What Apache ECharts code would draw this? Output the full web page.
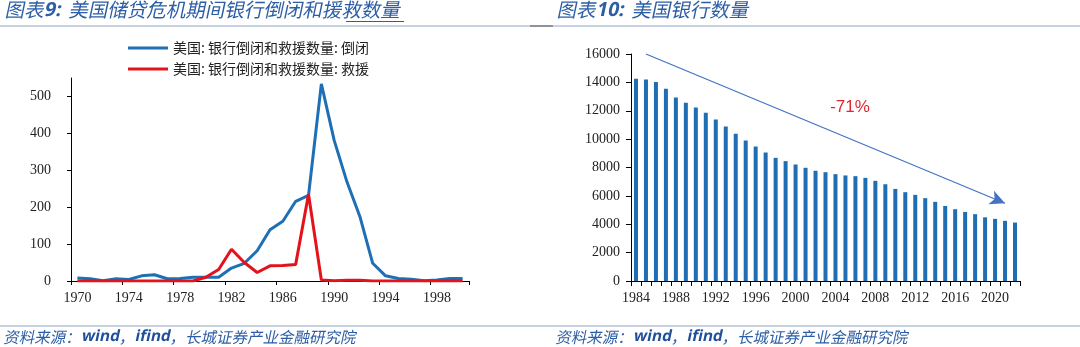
<!DOCTYPE html>
<html>
<head>
<meta charset="utf-8">
<script src="https://cdn.jsdelivr.net/npm/echarts@6/dist/echarts.min.js"></script>
<style>html,body{margin:0;padding:0;background:#fff;}#c{width:1080px;height:347px;}</style>
</head>
<body>
<div id="c"></div>
<script>
// ---- Left chart data ----
const leftYears = ['1970','1971','1972','1973','1974','1975','1976','1977','1978','1979','1980','1981','1982','1983','1984','1985','1986','1987','1988','1989','1990','1991','1992','1993','1994','1995','1996','1997','1998','1999','2000'];
const closures = [8,6,1,6,4,14,17,6,7,10,10,10,35,48,82,139,162,216,232,534,381,268,175,48,14,7,5,1,3,7,7];
const assisted = [0,0,0,0,0,0,0,0,0,0,10,31,86,50,23,41,42,45,235,3,1,2,2,0,0,0,0,0,0,0,0];
const leftNames = ['美国: 银行倒闭和救援数量: 倒闭','美国: 银行倒闭和救援数量: 救援'];
// ---- Right chart data ----
const rightYears = ['1984','1985','1986','1987','1988','1989','1990','1991','1992','1993','1994','1995','1996','1997','1998','1999','2000','2001','2002','2003','2004','2005','2006','2007','2008','2009','2010','2011','2012','2013','2014','2015','2016','2017','2018','2019','2020','2021','2022'];
const bankCount = [14260,14210,14020,13550,12940,12570,12230,11860,11390,10890,10380,9910,9480,9060,8680,8450,8210,7980,7770,7670,7530,7440,7390,7270,7060,6820,6490,6260,6070,5840,5580,5290,5060,4870,4710,4490,4380,4240,4120];
const arrowFrom = ['1985', 16000];
const arrowTo = ['2021', 5480];
const changeLabel = '-71%';
const titleLeft = ['图表','9:','美国储贷危机期间银行倒闭和援','救数量'];
const titleRight = ['图表','10:','美国银行数量'];
const sourceParts = ['资料来源：','wind','，','ifind','，长城证券产业金融研究院'];

const serif = '"Liberation Serif","Times New Roman",serif';
const cjk = '"Noto Sans CJK SC","Noto Sans",sans-serif';
const titleColor = '#2c5ea6';
const axisCommon = {
  axisLine: {lineStyle: {color: '#000', width: 1}},
  axisLabel: {color: '#222', fontFamily: serif, fontSize: 14},
  splitLine: {show: false}
};
const tStyle = {fontFamily: cjk, fontSize: 19.5, fill: titleColor, fontWeight: 'normal'};
const tBold = {fontFamily: '"Open Sans","Noto Sans",sans-serif', fontSize: 19.5, fill: titleColor, fontWeight: 'bold', padding: [0, 8, 0, 0]};
const fStyle = {fontFamily: cjk, fontSize: 15.5, fill: titleColor};
const fLatin = {fontFamily: '"Open Sans","Noto Sans",sans-serif', fontSize: 15.5, fill: '#1f4e9a', fontWeight: 'bold'};
function footer(x) {
  return {type: 'text', name: 'italic', left: x, top: 329, style: {
    text: '{c|' + sourceParts[0] + '}{l|' + sourceParts[1] + '}{c|' + sourceParts[2] + '}{l|' + sourceParts[3] + '}{c|' + sourceParts[4] + '}',
    rich: {c: fStyle, l: fLatin}}};
}

const chart = echarts.init(document.getElementById('c'));
chart.setOption({
  animation: false,
  backgroundColor: '#fff',
  grid: [
    {left: 71, width: 398, top: 78, height: 203},
    {left: 631, width: 389, top: 54, height: 227}
  ],
  legend: {
    data: leftNames,
    orient: 'vertical',
    left: 123, top: 36,
    itemWidth: 40, itemHeight: 14, itemGap: 7,
    icon: 'path://M0,5.5L40,5.5L40,8.5L0,8.5Z',
    textStyle: {fontFamily: cjk, fontSize: 14, color: '#222'}
  },
  xAxis: [
    Object.assign({}, axisCommon, {
      gridIndex: 0, type: 'category', data: leftYears, boundaryGap: true,
      axisLabel: Object.assign({}, axisCommon.axisLabel, {interval: 3, margin: 10}),
      axisTick: {show: true, interval: 3, length: 4, lineStyle: {color: '#000'}}
    }),
    Object.assign({}, axisCommon, {
      gridIndex: 1, type: 'category', data: rightYears, boundaryGap: true,
      axisLabel: Object.assign({}, axisCommon.axisLabel, {interval: 3, margin: 10}),
      axisTick: {show: true, interval: 0, length: 5, lineStyle: {color: '#000'}}
    })
  ],
  yAxis: [
    Object.assign({}, axisCommon, {
      gridIndex: 0, type: 'value', min: 0, max: 550, interval: 100,
      axisLine: {show: true, lineStyle: {color: '#000', width: 1}},
      axisLabel: Object.assign({}, axisCommon.axisLabel, {margin: 20, showMaxLabel: false}),
      axisTick: {show: true, length: 4, lineStyle: {color: '#000'}}
    }),
    Object.assign({}, axisCommon, {
      gridIndex: 1, type: 'value', min: 0, max: 16000, interval: 2000,
      axisLine: {show: true, lineStyle: {color: '#000', width: 1}},
      axisLabel: Object.assign({}, axisCommon.axisLabel, {margin: 11, formatter: function (v) { return String(v); }}),
      axisTick: {show: true, length: 5, lineStyle: {color: '#000'}}
    })
  ],
  series: [
    {name: leftNames[0], type: 'line', xAxisIndex: 0, yAxisIndex: 0, data: closures,
     showSymbol: false, symbol: 'none', lineStyle: {color: '#1f6fb5', width: 3}, itemStyle: {color: '#1f6fb5'}},
    {name: leftNames[1], type: 'line', xAxisIndex: 0, yAxisIndex: 0, data: assisted,
     showSymbol: false, symbol: 'none', lineStyle: {color: '#e3121b', width: 3}, itemStyle: {color: '#e3121b'}},
    {name: '美国银行数量', type: 'bar', xAxisIndex: 1, yAxisIndex: 1, data: bankCount,
     barWidth: 4, itemStyle: {color: '#1f6db3'},
     markLine: {
       silent: true, symbol: ['none', 'arrow'], symbolSize: [11, 15],
       label: {show: false},
       lineStyle: {color: '#4472c4', width: 1.2, type: 'solid'},
       data: [[{coord: arrowFrom}, {coord: arrowTo}]]
     }}
  ],
  graphic: [
    {type: 'text', name: 'italic', left: 6, top: 0, style: {
      text: '{a|' + titleLeft[0] + '}{b|' + titleLeft[1] + '}{a|' + titleLeft[2] + titleLeft[3] + '}',
      rich: {a: tStyle, b: tBold}}},
    {type: 'line', shape: {x1: 346, y1: 21.5, x2: 404, y2: 21.5}, style: {stroke: titleColor, lineWidth: 1}},
    {type: 'text', name: 'italic', left: 558, top: 0, style: {
      text: '{a|' + titleRight[0] + '}{b|' + titleRight[1] + '}{a|' + titleRight[2] + '}',
      rich: {a: tStyle, b: tBold}}},
    {type: 'line', shape: {x1: 0, y1: 26, x2: 1080, y2: 26}, style: {stroke: '#8fa7c4', lineWidth: 1.2}},
    {type: 'line', shape: {x1: 530, y1: 26, x2: 553, y2: 26}, style: {stroke: '#6a6a6a', lineWidth: 1.2}},
    {type: 'line', shape: {x1: 0, y1: 326, x2: 1080, y2: 326}, style: {stroke: '#8fa7c4', lineWidth: 1.2}},
    footer(4),
    footer(556),
    {type: 'text', x: 850, y: 107, style: {text: changeLabel, fontFamily: '"Liberation Sans",Arial,sans-serif', fontSize: 17, fill: '#e0282e', align: 'center', verticalAlign: 'middle'}}
  ]
});

// Slant the title and source texts (CJK fonts have no italic face).
(function applySkew() {
  const zr = chart.getZr();
  const visit = function (el) {
    if (el.name === 'italic' && el.type === 'text') {
      el.skewX = -0.21;
      el.originY = 10;
      el.markRedraw();
    }
    if (el.childrenRef) { (el.childrenRef() || []).forEach(visit); }
    else if (el._children) { el._children.forEach(visit); }
  };
  zr.storage.getRoots().forEach(visit);
  zr.refreshImmediately();
})();
</script>
</body>
</html>
